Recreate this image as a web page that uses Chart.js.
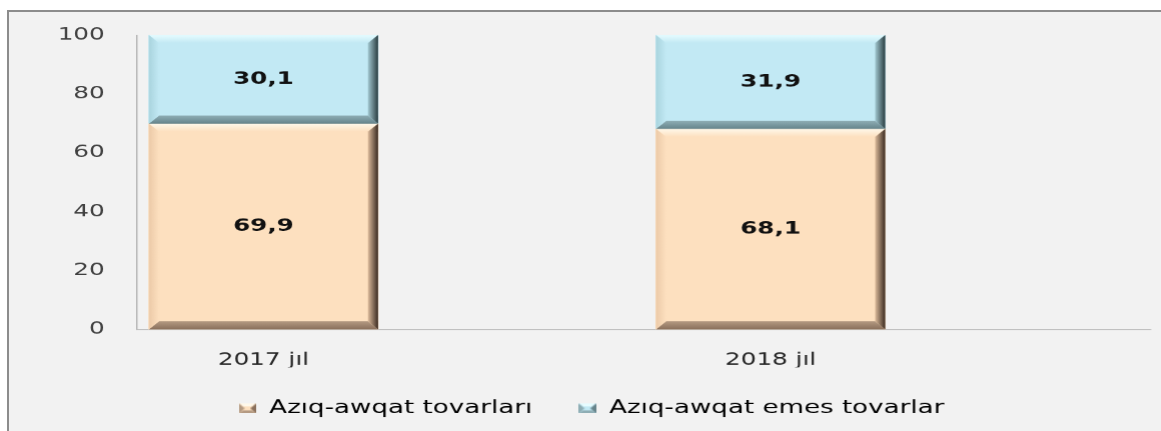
<!DOCTYPE html>
<html>
<head>
<meta charset="utf-8">
<script src="https://cdn.jsdelivr.net/npm/chart.js@4.4.0/dist/chart.umd.min.js"></script>
<style>
  html, body { margin: 0; padding: 0; background: #fff; overflow: hidden; }
  body { width: 1161px; height: 431px; position: relative; }
  #frame { position: absolute; left: 7px; top: 10px; width: 1154px; height: 421px;
           border-left: 2px solid #8c8c8c; border-top: 2px solid #8c8c8c; background: #f2f2f2; }
  /* the source picture is stretched sideways, so the chart is too */
  #wrap { position: absolute; left: 0; top: 0; width: 795px; height: 419px;
          transform: scaleX(1.45); transform-origin: 0 0; }
</style>
</head>
<body>
<div id="frame">
  <div id="wrap"><canvas id="chart" width="795" height="419"></canvas></div>
</div>
<script>
const categories = ['2017 jıl', '2018 jıl'];
const seriesNames = ['Azıq-awqat tovarları', 'Azıq-awqat emes tovarlar'];
const foodValues = [69.9, 68.1];
const nonFoodValues = [30.1, 31.9];

const faceColors = ['#fde0bf', '#c2e9f4'];
const bevels = [
  { top: '#fff8ea', left: '#eccaa8', bottomIn: '#b49a82', bottomOut: '#8a705c', rightIn: '#dcbb9b', rightOut: '#3a2b21' },
  { top: '#e6fcff', left: '#a9d4de', bottomIn: '#8eadb4', bottomOut: '#66848b', rightIn: '#a2c8d1', rightOut: '#2a3d41' }
];

Chart.defaults.font.family = '"DejaVu Sans", Verdana, sans-serif';

function poly(ctx, pts, fill) {
  ctx.beginPath();
  ctx.moveTo(pts[0][0], pts[0][1]);
  for (let i = 1; i < pts.length; i++) ctx.lineTo(pts[i][0], pts[i][1]);
  ctx.closePath();
  ctx.fillStyle = fill;
  ctx.fill();
}

// little bevelled square for the legend, like the Excel one
function makeIcon(i) {
  const c = document.createElement('canvas');
  c.width = 12; c.height = 10;
  const g = c.getContext('2d');
  const b = bevels[i];
  g.fillStyle = faceColors[i];
  g.fillRect(0, 0, 12, 10);
  poly(g, [[0, 0], [12, 0], [9, 3], [3, 3]], b.top);
  poly(g, [[0, 10], [12, 10], [9, 7], [3, 7]], b.bottomIn);
  poly(g, [[0, 0], [4, 5], [0, 10]], b.bottomIn);
  poly(g, [[12, 0], [8, 5], [12, 10]], b.bottomOut);
  return c;
}
const legendIcons = [makeIcon(0), makeIcon(1)];

// draws the bevel on each bar and the value in its middle
const bevelPlugin = {
  id: 'bevel',
  afterDatasetsDraw(chart) {
    const ctx = chart.ctx;
    const bh = 7, bv = 8;
    chart.data.datasets.forEach((ds, di) => {
      const meta = chart.getDatasetMeta(di);
      const b = bevels[di];
      meta.data.forEach((el, i) => {
        const p = el.getProps(['x', 'y', 'base', 'width'], true);
        const l = p.x - p.width / 2, r = p.x + p.width / 2;
        const t = Math.min(p.y, p.base), btm = Math.max(p.y, p.base);
        ctx.save();
        let g = ctx.createLinearGradient(0, t, 0, t + bv);
        g.addColorStop(0, b.top);
        g.addColorStop(1, faceColors[di]);
        poly(ctx, [[l, t], [r, t], [r - bh, t + bv], [l + bh, t + bv]], g);
        g = ctx.createLinearGradient(0, btm - bv, 0, btm);
        g.addColorStop(0, b.bottomIn);
        g.addColorStop(1, b.bottomOut);
        poly(ctx, [[l, btm], [r, btm], [r - bh, btm - bv], [l + bh, btm - bv]], g);
        g = ctx.createLinearGradient(l, 0, l + bh, 0);
        g.addColorStop(0, b.left);
        g.addColorStop(1, faceColors[di]);
        poly(ctx, [[l, t], [l + bh, t + bv], [l + bh, btm - bv], [l, btm]], g);
        g = ctx.createLinearGradient(r - bh, 0, r, 0);
        g.addColorStop(0, b.rightIn);
        g.addColorStop(1, b.rightOut);
        poly(ctx, [[r, t], [r - bh, t + bv], [r - bh, btm - bv], [r, btm]], g);

        ctx.font = 'bold 17px "DejaVu Sans", Verdana, sans-serif';
        ctx.fillStyle = '#111';
        ctx.textAlign = 'center';
        ctx.textBaseline = 'middle';
        ctx.fillText(ds.data[i].y.toFixed(1).replace('.', ','), p.x, (t + btm) / 2);
        ctx.restore();
      });
    });
  }
};

new Chart(document.getElementById('chart'), {
  type: 'bar',
  data: {
    datasets: [
      { label: seriesNames[0], data: categories.map((c, i) => ({ x: i, y: foodValues[i] })),
        backgroundColor: faceColors[0], borderWidth: 0, barThickness: 158 },
      { label: seriesNames[1], data: categories.map((c, i) => ({ x: i, y: nonFoodValues[i] })),
        backgroundColor: faceColors[1], borderWidth: 0, barThickness: 158 }
    ]
  },
  options: {
    responsive: false,
    animation: false,
    devicePixelRatio: 1.45,
    layout: { autoPadding: false, padding: { top: 23, right: 8, bottom: 4, left: 16 } },
    scales: {
      x: {
        type: 'linear', stacked: true, offset: false, min: -0.25, max: 1.75,
        afterBuildTicks: s => { s.ticks = categories.map((c, i) => ({ value: i })); },
        afterFit: s => { s.height = 38; s.paddingLeft = 0; s.paddingRight = 0; },
        grid: { display: false, drawTicks: false },
        border: { color: '#b3b3b3' },
        ticks: { padding: 21, color: '#262626', font: { size: 17 }, callback: v => categories[v] ?? '' }
      },
      y: {
        stacked: true, min: 0, max: 100,
        afterFit: s => { s.width = 72; s.paddingTop = 0; s.paddingBottom = 0; },
        grid: { display: false, drawTicks: false },
        border: { color: '#b3b3b3' },
        ticks: { stepSize: 20, padding: 22, color: '#404040', font: { size: 17 } }
      }
    },
    plugins: {
      legend: {
        position: 'bottom',
        maxHeight: 60,
        labels: {
          padding: 32, boxWidth: 12, boxHeight: 11, usePointStyle: true,
          color: '#333', font: { size: 18 },
          generateLabels: chart => chart.data.datasets.map((ds, i) => ({
            text: ds.label, fillStyle: ds.backgroundColor, lineWidth: 0,
            pointStyle: legendIcons[i], hidden: !chart.isDatasetVisible(i), datasetIndex: i
          }))
        }
      },
      tooltip: { enabled: false }
    }
  },
  plugins: [bevelPlugin]
});
</script>
</body>
</html>
